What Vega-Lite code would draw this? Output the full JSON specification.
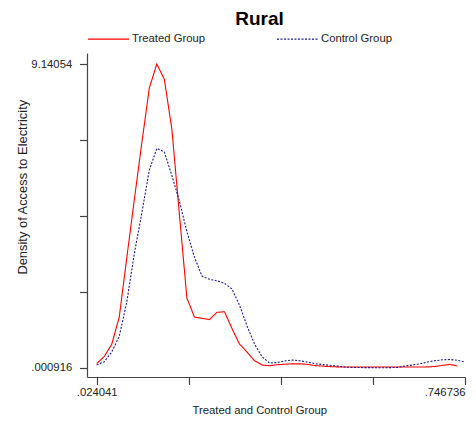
{
  "$schema": "https://vega.github.io/schema/vega-lite/v6.json",
  "autosize": "none",
  "padding": {"left": 87, "top": 53, "right": 11, "bottom": 45},
  "width": 378,
  "height": 324,
  "background": "white",
  "title": {
    "text": "Rural",
    "font": "Liberation Sans",
    "fontSize": 19,
    "fontWeight": "bold",
    "color": "#000000",
    "frame": "group",
    "anchor": "middle",
    "dx": -16.5,
    "offset": -11
  },
  "config": {
    "view": {"stroke": null},
    "axis": {
      "grid": false,
      "domainColor": "#444444",
      "tickColor": "#444444",
      "labelColor": "#222222",
      "titleColor": "#222222",
      "labelFont": "Liberation Sans",
      "titleFont": "Liberation Sans",
      "labelFontSize": 11.3,
      "titleFontSize": 11.3,
      "titleFontWeight": "normal",
      "tickSize": 7.5,
      "domainWidth": 1.2,
      "tickWidth": 1.2
    }
  },
  "data": {
    "values": [
      {"x": 0.024041, "y": 0.126, "g": "Treated Group"},
      {"x": 0.038790, "y": 0.337, "g": "Treated Group"},
      {"x": 0.053539, "y": 0.704, "g": "Treated Group"},
      {"x": 0.068288, "y": 1.526, "g": "Treated Group"},
      {"x": 0.083037, "y": 3.301, "g": "Treated Group"},
      {"x": 0.097785, "y": 5.047, "g": "Treated Group"},
      {"x": 0.112534, "y": 6.762, "g": "Treated Group"},
      {"x": 0.127283, "y": 8.417, "g": "Treated Group"},
      {"x": 0.142032, "y": 9.14054, "g": "Treated Group"},
      {"x": 0.156781, "y": 8.679, "g": "Treated Group"},
      {"x": 0.171530, "y": 7.183, "g": "Treated Group"},
      {"x": 0.186279, "y": 4.625, "g": "Treated Group"},
      {"x": 0.201028, "y": 2.097, "g": "Treated Group"},
      {"x": 0.215777, "y": 1.526, "g": "Treated Group"},
      {"x": 0.230525, "y": 1.487, "g": "Treated Group"},
      {"x": 0.245274, "y": 1.450, "g": "Treated Group"},
      {"x": 0.260023, "y": 1.667, "g": "Treated Group"},
      {"x": 0.274772, "y": 1.685, "g": "Treated Group"},
      {"x": 0.289521, "y": 1.180, "g": "Treated Group"},
      {"x": 0.304270, "y": 0.713, "g": "Treated Group"},
      {"x": 0.319019, "y": 0.472, "g": "Treated Group"},
      {"x": 0.333767, "y": 0.211, "g": "Treated Group"},
      {"x": 0.348516, "y": 0.081, "g": "Treated Group"},
      {"x": 0.363265, "y": 0.060, "g": "Treated Group"},
      {"x": 0.378014, "y": 0.090, "g": "Treated Group"},
      {"x": 0.392763, "y": 0.105, "g": "Treated Group"},
      {"x": 0.407512, "y": 0.117, "g": "Treated Group"},
      {"x": 0.422261, "y": 0.117, "g": "Treated Group"},
      {"x": 0.437009, "y": 0.102, "g": "Treated Group"},
      {"x": 0.451758, "y": 0.066, "g": "Treated Group"},
      {"x": 0.466507, "y": 0.050, "g": "Treated Group"},
      {"x": 0.481256, "y": 0.035, "g": "Treated Group"},
      {"x": 0.496005, "y": 0.025, "g": "Treated Group"},
      {"x": 0.510754, "y": 0.020, "g": "Treated Group"},
      {"x": 0.525503, "y": 0.020, "g": "Treated Group"},
      {"x": 0.540252, "y": 0.020, "g": "Treated Group"},
      {"x": 0.555000, "y": 0.020, "g": "Treated Group"},
      {"x": 0.569749, "y": 0.020, "g": "Treated Group"},
      {"x": 0.584498, "y": 0.020, "g": "Treated Group"},
      {"x": 0.599247, "y": 0.020, "g": "Treated Group"},
      {"x": 0.613996, "y": 0.020, "g": "Treated Group"},
      {"x": 0.628745, "y": 0.020, "g": "Treated Group"},
      {"x": 0.643494, "y": 0.020, "g": "Treated Group"},
      {"x": 0.658242, "y": 0.020, "g": "Treated Group"},
      {"x": 0.672991, "y": 0.025, "g": "Treated Group"},
      {"x": 0.687740, "y": 0.040, "g": "Treated Group"},
      {"x": 0.702489, "y": 0.070, "g": "Treated Group"},
      {"x": 0.717238, "y": 0.100, "g": "Treated Group"},
      {"x": 0.731987, "y": 0.050, "g": "Treated Group"},
      {"x": 0.024041, "y": 0.081, "g": "Control Group"},
      {"x": 0.038790, "y": 0.181, "g": "Control Group"},
      {"x": 0.053539, "y": 0.472, "g": "Control Group"},
      {"x": 0.068288, "y": 0.939, "g": "Control Group"},
      {"x": 0.083037, "y": 1.977, "g": "Control Group"},
      {"x": 0.097785, "y": 3.422, "g": "Control Group"},
      {"x": 0.112534, "y": 4.655, "g": "Control Group"},
      {"x": 0.127283, "y": 5.949, "g": "Control Group"},
      {"x": 0.142032, "y": 6.603, "g": "Control Group"},
      {"x": 0.156781, "y": 6.491, "g": "Control Group"},
      {"x": 0.171530, "y": 5.784, "g": "Control Group"},
      {"x": 0.186279, "y": 5.017, "g": "Control Group"},
      {"x": 0.201028, "y": 4.093, "g": "Control Group"},
      {"x": 0.215777, "y": 3.331, "g": "Control Group"},
      {"x": 0.230525, "y": 2.760, "g": "Control Group"},
      {"x": 0.245274, "y": 2.660, "g": "Control Group"},
      {"x": 0.260023, "y": 2.618, "g": "Control Group"},
      {"x": 0.274772, "y": 2.540, "g": "Control Group"},
      {"x": 0.289521, "y": 2.368, "g": "Control Group"},
      {"x": 0.304270, "y": 1.887, "g": "Control Group"},
      {"x": 0.319019, "y": 1.255, "g": "Control Group"},
      {"x": 0.333767, "y": 0.713, "g": "Control Group"},
      {"x": 0.348516, "y": 0.331, "g": "Control Group"},
      {"x": 0.363265, "y": 0.141, "g": "Control Group"},
      {"x": 0.378014, "y": 0.156, "g": "Control Group"},
      {"x": 0.392763, "y": 0.202, "g": "Control Group"},
      {"x": 0.407512, "y": 0.232, "g": "Control Group"},
      {"x": 0.422261, "y": 0.211, "g": "Control Group"},
      {"x": 0.437009, "y": 0.172, "g": "Control Group"},
      {"x": 0.451758, "y": 0.126, "g": "Control Group"},
      {"x": 0.466507, "y": 0.096, "g": "Control Group"},
      {"x": 0.481256, "y": 0.075, "g": "Control Group"},
      {"x": 0.496005, "y": 0.051, "g": "Control Group"},
      {"x": 0.510754, "y": 0.020, "g": "Control Group"},
      {"x": 0.525503, "y": 0.008, "g": "Control Group"},
      {"x": 0.540252, "y": 0.005, "g": "Control Group"},
      {"x": 0.555000, "y": 0.003, "g": "Control Group"},
      {"x": 0.569749, "y": 0.001, "g": "Control Group"},
      {"x": 0.584498, "y": 0.000916, "g": "Control Group"},
      {"x": 0.599247, "y": 0.002, "g": "Control Group"},
      {"x": 0.613996, "y": 0.010, "g": "Control Group"},
      {"x": 0.628745, "y": 0.051, "g": "Control Group"},
      {"x": 0.643494, "y": 0.081, "g": "Control Group"},
      {"x": 0.658242, "y": 0.120, "g": "Control Group"},
      {"x": 0.672991, "y": 0.172, "g": "Control Group"},
      {"x": 0.687740, "y": 0.211, "g": "Control Group"},
      {"x": 0.702489, "y": 0.238, "g": "Control Group"},
      {"x": 0.717238, "y": 0.247, "g": "Control Group"},
      {"x": 0.731987, "y": 0.223, "g": "Control Group"},
      {"x": 0.746736, "y": 0.172, "g": "Control Group"}
    ]
  },
  "mark": {"type": "line", "strokeWidth": 1.1, "interpolate": "linear"},
  "encoding": {
    "x": {
      "field": "x",
      "type": "quantitative",
      "scale": {"domain": [0.00501, 0.746736], "nice": false, "zero": false},
      "axis": {
        "title": "Treated and Control Group",
        "values": [0.024041, 0.20471475, 0.3853885, 0.56606225, 0.746736],
        "labelExpr": "datum.value < 0.03 ? '.024041' : (datum.value > 0.7 ? '.746736' : '')",
        "labelAlign": {"expr": "datum.value > 0.7 ? 'right' : 'center'"},
        "labelPadding": 1.5,
        "titleX": 172.3,
        "titleY": 33.7,
        "titleBaseline": "middle",
        "titleAlign": "center",
        "labelFlush": false,
        "labelOverlap": false
      }
    },
    "y": {
      "field": "y",
      "type": "quantitative",
      "scale": {"domain": [-0.279, 9.4716], "nice": false, "zero": false},
      "axis": {
        "title": "Density of Access to Electricity",
        "titleFontSize": 12.9,
        "values": [0.000916, 2.285822, 4.570728, 6.855634, 9.14054],
        "labelExpr": "datum.value < 0.01 ? '.000916' : (datum.value > 9 ? '9.14054' : '')",
        "labelPadding": 7.8,
        "titleX": -64.5,
        "titleY": 133.7,
        "titleAngle": 270,
        "titleBaseline": "middle",
        "titleAlign": "center",
        "labelFlush": false,
        "labelOverlap": false
      }
    },
    "color": {
      "field": "g",
      "type": "nominal",
      "scale": {"domain": ["Treated Group", "Control Group"], "range": ["#ff0000", "#1a1a8c"]},
      "legend": {
        "title": null,
        "orient": "none",
        "legendX": 0,
        "legendY": -35.5,
        "direction": "horizontal",
        "symbolType": "stroke",
        "symbolSize": 1681,
        "symbolStrokeWidth": 1.1,
        "labelFont": "Liberation Sans",
        "labelFontSize": 11.3,
        "labelColor": "#222222",
        "labelOffset": 2,
        "columnPadding": 68,
        "padding": 0
      }
    },
    "strokeDash": {
      "field": "g",
      "type": "nominal",
      "scale": {"domain": ["Treated Group", "Control Group"], "range": [[1, 0], [2, 1.5]]}
    }
  }
}
